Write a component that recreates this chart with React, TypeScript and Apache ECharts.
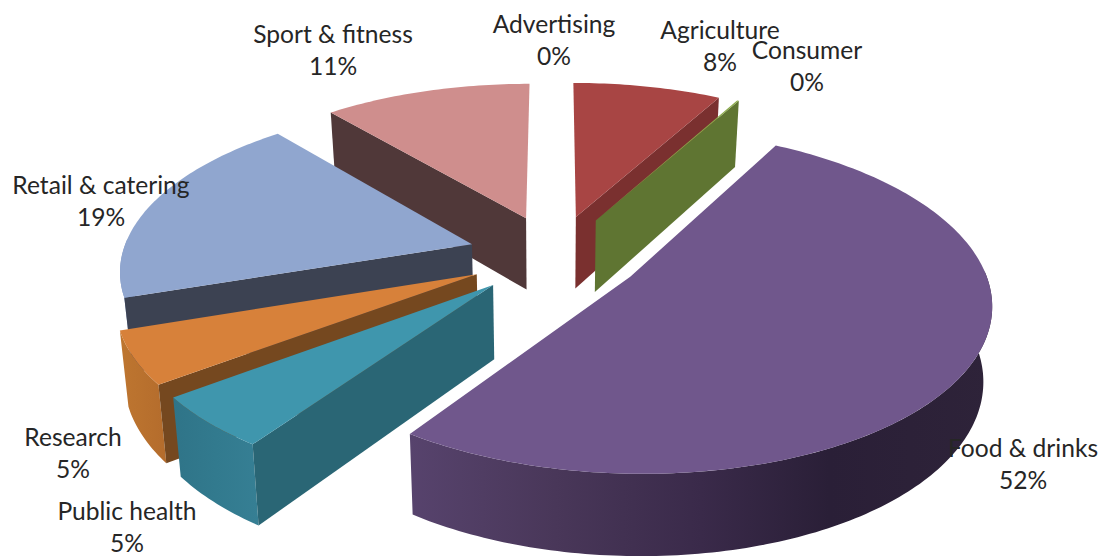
import React, { useEffect, useRef } from "react";
import * as echarts from "echarts";

const categories = ["Advertising", "Agriculture", "Consumer", "Food & drinks", "Public health", "Research", "Retail & catering", "Sport & fitness"];
const values = [0, 8, 0.1, 51.8, 5.1, 5.1, 19.1, 11.2];

// Painter's order (back to front), as indices in categories
const drawOrder = [7, 0, 1, 2, 6, 5, 4, 3];

const topColors = ["#4F81BD", "#A84544", "#8AAA4A", "#70578C", "#3F96AD", "#D7813A", "#90A6CF", "#CF8E8D"];
const edgeColors = ["#3A5F8C", "#7A302F", "#5F7532", "#3C2C50", "#2A6675", "#75481F", "#3C4252", "#503839"];
const wallStops: [number, string][][] = [
  [[0, "#3A5F8C"], [1, "#3A5F8C"]],
  [[0, "#7A302F"], [1, "#7A302F"]],
  [[0, "#5F7532"], [1, "#5F7532"]],
  [[0, "#57436D"], [0.25, "#493759"], [0.5, "#3A2A4A"], [0.72, "#2A1F37"], [1, "#2E2339"]],
  [[0, "#2F7488"], [0.5, "#327A8E"], [1, "#367F94"]],
  [[0, "#BE7630"], [1, "#B46C2C"]],
  [[0, "#7E96C2"], [1, "#7E96C2"]],
  [[0, "#A06E6D"], [1, "#A06E6D"]],
];

// Label anchor points: centre x, centre y of the first line
const labelX = [554, 720, 807, 1023, 127, 73, 101, 333];
const labelY = [23, 29, 49, 447, 510, 436, 184, 33];

const CX = 555, CY = 255, R = 350, EXPLODE = 87, K = 0.465, Q = 0.0004, H = 73, H_POW = 0.7, VX = 550, LEAN_LEFT = 0.98, LEAN_RIGHT = 0.98;

const total = values.reduce((a, b) => a + b, 0);
const starts: number[] = [];
values.reduce((acc, v, i) => {
  starts[i] = acc;
  return acc + (v / total) * 360;
}, 0);

const rad = (d: number) => (d * Math.PI) / 180;

function top(X: number, Y: number) {
  const s = 1 / (1 + Q * Y);
  return { x: CX + X * s, y: CY - Y * K * s, s };
}
function bottom(p: { x: number; y: number; s: number }) {
  const lean = p.x < VX ? LEAN_LEFT : LEAN_RIGHT;
  return { x: VX + (p.x - VX) * lean, y: p.y + H * Math.pow(p.s, H_POW), s: p.s };
}
const pt = (p: { x: number; y: number }) => [p.x, p.y];

function renderItem(params: any, api: any) {
  const row = drawOrder[params.dataIndex];
  const value = api.value(0);
  const children: any[] = [];
  const base = params.dataIndex * 10;
  if (value > 0) {
    const a = starts[row];
    const b = a + (value / total) * 360;
    const mid = rad((a + b) / 2);
    const ox = EXPLODE * Math.sin(mid);
    const oy = EXPLODE * Math.cos(mid);
    const at = (deg: number, r = R) => top(ox + r * Math.sin(rad(deg)), oy + r * Math.cos(rad(deg)));
    const apex = at(a, 0);
    const arc = (from: number, to: number) => {
      const n = Math.max(1, Math.ceil(to - from));
      const list = [];
      for (let i = 0; i <= n; i++) list.push(at(from + ((to - from) * i) / n));
      return list;
    };
    const radial = (deg: number) => ({
      type: "polygon",
      z2: base + 2,
      shape: { points: [pt(apex), pt(at(deg)), pt(bottom(at(deg))), pt(bottom(apex))] },
      style: { fill: edgeColors[row] },
    });
    if (Math.sin(rad(a)) < -0.01) children.push(radial(a));
    if (Math.sin(rad(b)) > 0.01) children.push(radial(b));
    const wa = Math.max(a, 88);
    const wb = Math.min(b, 272);
    if (wa < wb) {
      const ring = arc(wa, wb);
      children.push({
        type: "polygon",
        z2: base + 1,
        shape: { points: [...ring.map(pt), ...ring.slice().reverse().map((p) => pt(bottom(p)))] },
        style: {
          fill: new echarts.graphic.LinearGradient(0, 0, 1, 0, wallStops[row].map(([offset, color]) => ({ offset, color }))),
        },
      });
    }
    children.push({
      type: "polygon",
      z2: base + 3,
      shape: { points: [pt(apex), ...arc(a, b).map(pt)] },
      style: { fill: topColors[row] },
    });
  }
  const pct = Math.round((value / total) * 100);
  children.push({
    type: "text",
    z2: 1000,
    style: {
      text: `${categories[row]}\n${pct}%`,
      x: labelX[row],
      y: labelY[row] - 16,
      fill: "#262626",
      font: '24.6px Lato, "Noto Sans", sans-serif',
      lineHeight: 32,
      align: "center",
      verticalAlign: "top",
    },
  });
  return { type: "group", children };
}

export default function App() {
  const ref = useRef<HTMLDivElement>(null);
  useEffect(() => {
    const chart = echarts.init(ref.current!, null, { renderer: "svg" });
    chart.setOption({
      animation: false,
      backgroundColor: "#ffffff",
      series: [
        {
          type: "custom",
          coordinateSystem: "none",
          silent: true,
          renderItem,
          data: drawOrder.map((i) => [values[i]]),
        },
      ],
    });
    return () => chart.dispose();
  }, []);
  return <div ref={ref} style={{ position: "absolute", left: 0, top: 0, width: 1109, height: 556 }} />;
}
